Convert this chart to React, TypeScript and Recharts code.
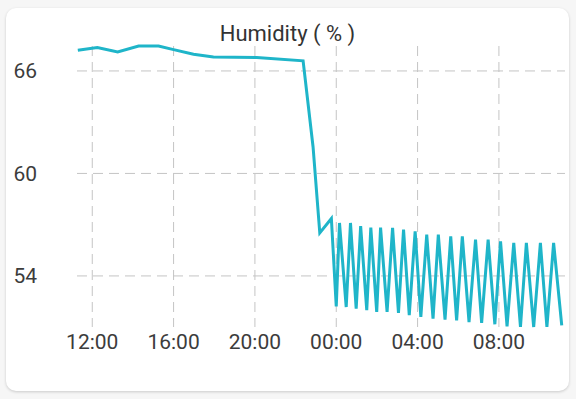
import React from "react";
import { LineChart, Line, XAxis, YAxis, CartesianGrid } from "recharts";

const hours = [
  11.29, 12.25, 13.25, 14.28, 15.26, 16.0, 16.98, 17.96, 20.09, 22.37,
  22.86, 23.19, 23.76, 24.0,
  24.16, 24.49, 24.7, 24.98, 25.2, 25.5, 25.7, 25.99, 26.18, 26.5,
  26.77, 27.06, 27.31, 27.59, 27.88, 28.16, 28.45, 28.76, 29.02, 29.35,
  29.63, 29.92, 30.2, 30.53, 30.85, 31.15, 31.47, 31.8, 32.08, 32.4,
  32.73, 33.06, 33.35, 33.71, 34.04, 34.36, 34.69, 35.09,
];

const humidity = [
  67.21, 67.37, 67.11, 67.46, 67.46, 67.25, 66.98, 66.82, 66.78, 66.59,
  61.55, 56.52, 57.36, 52.22,
  57.1, 52.18, 57.1, 52.09, 56.92, 51.99, 56.83, 51.89, 56.83, 51.89,
  56.81, 51.83, 56.71, 51.7, 56.61, 51.6, 56.42, 51.5, 56.42, 51.44,
  56.32, 51.4, 56.32, 51.3, 56.13, 51.25, 56.13, 51.17, 56.03, 51.05,
  55.93, 51.01, 55.93, 51.01, 55.93, 51.01, 55.93, 51.11,
];

const xTicks = [12, 16, 20, 24, 28, 32];
const yTicks = [54, 60, 66];
const xDomain = [11.25, 35.25];
const title = "Humidity ( % )";

const data = hours.map((h, i) => ({ t: h, v: humidity[i] }));
const yMin = Math.min(...humidity);
const yMax = Math.max(...humidity);

const fmtHour = (h: number) => {
  const hh = ((Math.round(h) % 24) + 24) % 24;
  return `${hh < 10 ? "0" : ""}${hh}:00`;
};

const tickStyle = { fontFamily: "Roboto, sans-serif", fontSize: 21, fill: "#3c3c3c" };

const vGen = ({ offset }: any) =>
  xTicks.map(
    (t) => offset.left + ((t - xDomain[0]) / (xDomain[1] - xDomain[0])) * offset.width
  );
const hGen = ({ offset }: any) =>
  yTicks.map((t) => offset.top + ((yMax - t) / (yMax - yMin)) * offset.height);

export default function App() {
  return (
    <div
      style={{
        position: "absolute",
        left: 0,
        top: 0,
        width: 576,
        height: 399,
        background: "#f6f6f6",
        overflow: "hidden",
      }}
    >
      <div
        style={{
          position: "absolute",
          left: 6,
          top: 8,
          width: 563,
          height: 383,
          background: "#ffffff",
          borderRadius: 10,
          boxShadow: "0 1px 3px rgba(0,0,0,0.18)",
        }}
      />
      <div
        style={{
          position: "absolute",
          left: 6,
          top: 21,
          width: 563,
          textAlign: "center",
          fontFamily: "Roboto, sans-serif",
          fontSize: 22,
          lineHeight: "26px",
          color: "#333333",
        }}
      >
        {title}
      </div>
      <div style={{ position: "absolute", left: 0, top: 0 }}>
        <LineChart
          width={576}
          height={399}
          data={data}
          margin={{ top: 46, right: 11, bottom: 0, left: 0 }}
        >
          <CartesianGrid
            stroke="#c4c4c4"
            strokeDasharray="10 6"
            verticalCoordinatesGenerator={vGen}
            horizontalCoordinatesGenerator={hGen}
          />
          <XAxis
            dataKey="t"
            type="number"
            domain={xDomain}
            ticks={xTicks}
            tickFormatter={fmtHour}
            axisLine={false}
            tickLine={false}
            tickSize={0}
            tickMargin={7}
            height={72}
            tick={tickStyle}
            interval={0}
          />
          <YAxis
            type="number"
            domain={[yMin, yMax]}
            ticks={yTicks}
            axisLine={false}
            tickLine={false}
            tickSize={0}
            tickMargin={40}
            width={77}
            tick={tickStyle}
            interval={0}
          />
          <Line
            type="linear"
            dataKey="v"
            stroke="#1fb5c9"
            strokeWidth={3}
            dot={false}
            isAnimationActive={false}
          />
        </LineChart>
      </div>
    </div>
  );
}
